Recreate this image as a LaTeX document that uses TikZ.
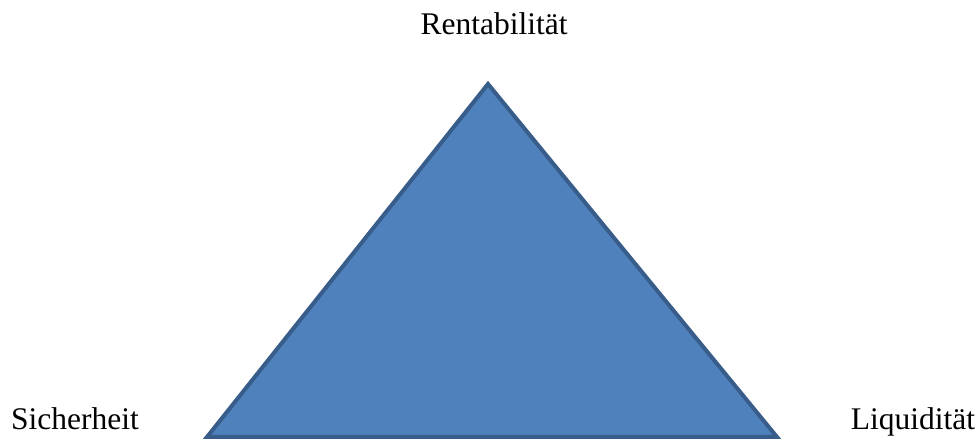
\documentclass[tikz,border=0pt]{standalone}
\usepackage{fontspec}
\setmainfont{Liberation Serif}
\usepackage{tikz}
\definecolor{dreieck}{HTML}{4F81BD}
\definecolor{rand}{HTML}{385D8A}

\begin{document}
\begin{tikzpicture}[x=1pt,y=1pt,font=\fontsize{31.5}{36}\selectfont,
  ziel/.style={anchor=base,inner sep=0pt}]
\useasboundingbox (0,0) rectangle (978,441);
% Ecken des Dreiecks
\coordinate (oben) at (488,357);
\coordinate (links) at (207,4);
\coordinate (rechts) at (777,4);
\draw[rand,fill=dreieck,line width=4pt,line join=miter] (links) -- (oben) -- (rechts) -- cycle;
% Beschriftungen
\node[ziel] (rent) at (494,406) {Rentabilität};
\node[ziel] (sich) at (75,11) {Sicherheit};
\node[ziel] (liqu) at (913,11) {Liquidität};
\end{tikzpicture}
\end{document}
